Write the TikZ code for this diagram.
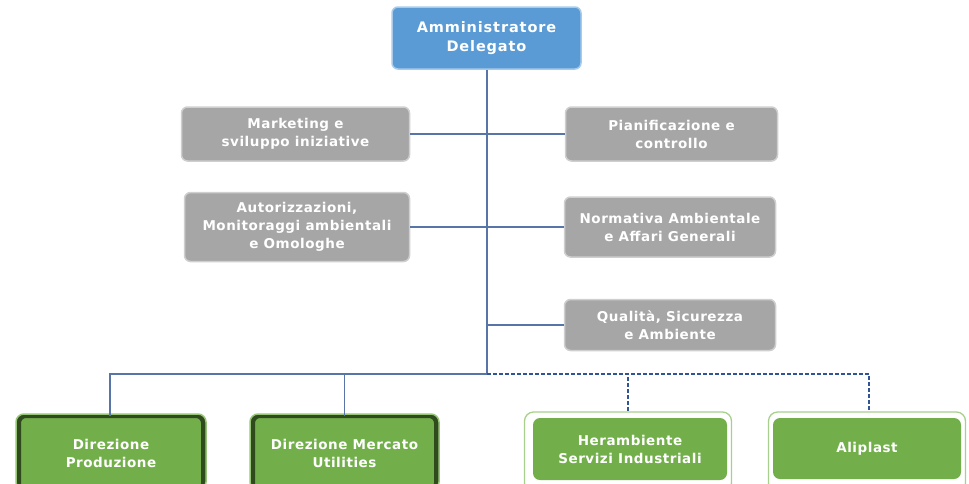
\documentclass[tikz,border=0pt]{standalone}
\usepackage{fontspec}
\setmainfont{DejaVu Sans}
\newfontfamily\toplab{DejaVu Sans}[LetterSpace=6]
\newfontfamily\lab{DejaVu Sans}[LetterSpace=4]
\definecolor{topblue}{HTML}{5B9BD5}
\definecolor{topedge}{HTML}{A9CBEA}
\definecolor{boxgray}{HTML}{A6A6A6}
\definecolor{grayedge}{HTML}{CFCFCF}
\definecolor{boxgreen}{HTML}{72AF4A}
\definecolor{darkgreen}{HTML}{2F4A1C}
\definecolor{lightgreen}{HTML}{A8D08D}
\definecolor{linec}{HTML}{5875A8}
\definecolor{dashc}{HTML}{2F5597}
\begin{document}
\begin{tikzpicture}[x=1pt,y=-1pt,
  base/.style={rectangle,rounded corners=6pt,align=center,text=white,inner sep=0pt},
  topbox/.style={base,fill=topblue,draw=topedge,line width=1.5pt,font=\toplab\bfseries\fontsize{14.5}{19}\selectfont},
  graybox/.style={base,fill=boxgray,draw=grayedge,line width=1.5pt,font=\lab\bfseries\fontsize{13.5}{18}\selectfont},
  greenbox/.style={base,fill=boxgreen,draw=darkgreen,line width=2pt,font=\lab\bfseries\fontsize{13.5}{18}\selectfont},
  outerbox/.style={rectangle,rounded corners=9pt,draw=lightgreen,fill=white,line width=1.3pt},
  innerbox/.style={base,fill=boxgreen,draw=none,font=\lab\bfseries\fontsize{13.5}{18}\selectfont},
  conn/.style={draw=linec,line width=1.5pt},
  dconn/.style={draw=dashc,line width=1.5pt,dash pattern=on 4pt off 2pt}]
\useasboundingbox (0,0) rectangle (969,483);
\begin{scope}
\clip (0,0) rectangle (969,483);
% nodes
\node[topbox,minimum width=189pt,minimum height=62pt] (ad) at (486.5,38) {Amministratore\\Delegato};
\node[graybox,minimum width=228pt,minimum height=54pt] (mkt) at (295.5,134) {Marketing e\\sviluppo iniziative};
\node[graybox,minimum width=212pt,minimum height=54pt] (pia) at (671.5,134) {Pianificazione e\\controllo};
\node[graybox,minimum width=225pt,minimum height=69pt] (aut) at (297,227) {Autorizzazioni,\\Monitoraggi ambientali\\e Omologhe};
\node[graybox,minimum width=211pt,minimum height=60pt] (nor) at (670,227) {Normativa Ambientale\\e Affari Generali};
\node[graybox,minimum width=211pt,minimum height=51pt] (qua) at (670,325) {Qualità, Sicurezza\\e Ambiente};
\draw[rounded corners=8pt,draw=lightgreen!70!boxgreen,line width=1.5pt,fill=darkgreen] (16,414) rectangle (206,490);
\node[greenbox,minimum width=182pt,minimum height=72pt] (dp) at (111,453) {Direzione\\Produzione};
\draw[rounded corners=8pt,draw=lightgreen!70!boxgreen,line width=1.5pt,fill=darkgreen] (250,414) rectangle (439,490);
\node[greenbox,minimum width=181pt,minimum height=72pt] (dm) at (344.5,453) {Direzione Mercato\\Utilities};
\node[outerbox,minimum width=207pt,minimum height=80pt] (herout) at (628,452) {};
\node[innerbox,minimum width=194pt,minimum height=62pt,rounded corners=7pt] (her) at (630,449) {Herambiente\\Servizi Industriali};
\node[outerbox,minimum width=197pt,minimum height=80pt] (aliout) at (867,452) {};
\node[innerbox,minimum width=188pt,minimum height=61pt,rounded corners=7pt] (ali) at (867,448.5) {Aliplast};
\end{scope}
% connectors
\coordinate (bus) at (487,374);
\draw[conn] (ad.south -| bus) -- (bus);
\draw[conn] (mkt.east) -- (mkt.east -| bus);
\draw[conn] (pia.west) -- (pia.west -| bus);
\draw[conn] (aut.east) -- (aut.east -| bus);
\draw[conn] (nor.west) -- (nor.west -| bus);
\draw[conn] (qua.west) -- (qua.west -| bus);
\draw[conn] (bus) -| ([xshift=-1pt]dp.north);
\draw[conn] (bus) -| (dm.north);
\draw[dconn] (bus) -| (herout.north);
\draw[dconn] (bus) -| ([xshift=2pt]aliout.north);
\end{tikzpicture}
\end{document}
